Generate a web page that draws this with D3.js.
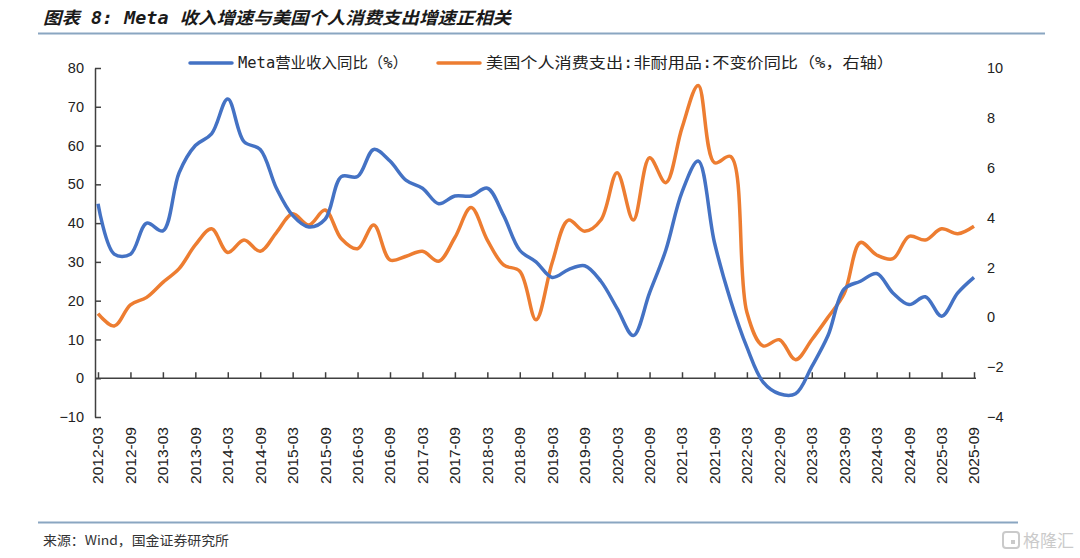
<!DOCTYPE html>
<html>
<head>
<meta charset="utf-8">
<script src="https://cdn.jsdelivr.net/npm/d3@7"></script>
<style>
	body { margin: 0; background: #fff; }
	svg { display: block; }
</style>
</head>
<body>
<div id="chart"></div>
<script>
// quarterly data, 2012-03 .. 2025-09
const quarters = [];
for (let y = 2012; y <= 2025; y++) {
	["03", "06", "09", "12"].forEach((m) => quarters.push(`${y}-${m}`));
}
quarters.splice(quarters.indexOf("2025-12"), 1);

const metaRevenueYoY = [
	45, 32, 32, 40, 38, 53, 60, 63, 72, 61, 59, 49, 42, 39, 41, 52,
	52, 59, 56, 51, 49, 45, 47, 47, 49, 42, 33, 30, 26, 28, 29, 25,
	18, 11, 22, 33, 48, 56, 35, 20, 8, -1, -4, -4, 3, 11, 23, 25,
	27, 22, 19, 21, 16, 22, 26
];

const pceNondurableYoY = [
	0.15, -0.35, 0.5, 0.8, 1.4, 1.95, 2.9, 3.55, 2.6, 3.1, 2.65, 3.4, 4.15, 3.7, 4.3, 3.15,
	2.75, 3.7, 2.3, 2.45, 2.65, 2.25, 3.2, 4.4, 3.1, 2.1, 1.85, -0.1, 2.2, 3.9, 3.45, 3.9,
	5.8, 3.9, 6.4, 5.4, 7.6, 9.3, 6.2, 6.45, 0.2, -1.15, -0.9, -1.7, -0.9, 0.0, 0.95, 3.0,
	2.5, 2.35, 3.25, 3.1, 3.55, 3.35, 3.65
];

const leftTicks = [-10, 0, 10, 20, 30, 40, 50, 60, 70, 80];
const rightTicks = [-4, -2, 0, 2, 4, 6, 8, 10];
const xLabels = quarters.filter((q, i) => i % 2 === 0);

const titleText = "图表 8: Meta 收入增速与美国个人消费支出增速正相关";
const sourceText = "来源：Wind，国金证券研究所";
const seriesNames = ["Meta营业收入同比（%）", "美国个人消费支出:非耐用品:不变价同比（%，右轴）"];
const colors = ["#4472C4", "#ED7D31"];

const width = 1080;
const height = 558;
const plotTop = 68;
const plotBottom = 417;
const axisX = 95;

const svg = d3.select("#chart").append("svg")
	.attr("width", width)
	.attr("height", height)
	.style("font-family", "'Liberation Sans', Arial, sans-serif");

const x = d3.scalePoint().domain(quarters).range([98, 974]);
const yLeft = d3.scaleLinear().domain([-10, 80]).range([plotBottom, plotTop]);
const yRight = d3.scaleLinear().domain([-4, 10]).range([plotBottom, plotTop]);

// title + rules
svg.append("text")
	.attr("x", 43)
	.attr("y", 24)
	.attr("font-family", "'DejaVu Sans Mono', 'Noto Sans CJK SC', monospace")
	.attr("font-size", 17)
	.attr("font-weight", "bold")
	.attr("font-style", "italic")
	.attr("fill", "#1a1a1a")
	.attr("textLength", 468)
	.attr("lengthAdjust", "spacingAndGlyphs")
	.text(titleText);

svg.append("line")
	.attr("x1", 38).attr("x2", 1045)
	.attr("y1", 33.5).attr("y2", 33.5)
	.attr("stroke", "#8aa6c1")
	.attr("stroke-width", 2);

svg.append("line")
	.attr("x1", 38).attr("x2", 1018)
	.attr("y1", 522.5).attr("y2", 522.5)
	.attr("stroke", "#8aa6c1")
	.attr("stroke-width", 2);

svg.append("text")
	.attr("x", 43)
	.attr("y", 545)
	.attr("font-family", "'Noto Sans CJK SC', sans-serif")
	.attr("font-size", 13)
	.attr("fill", "#333")
	.attr("textLength", 186)
	.attr("lengthAdjust", "spacingAndGlyphs")
	.text(sourceText);

// watermark
const wm = svg.append("g").attr("transform", "translate(1003, 540)").attr("opacity", 0.7);
wm.append("rect").attr("x", 0).attr("y", -8).attr("width", 16).attr("height", 16)
	.attr("rx", 3).attr("fill", "none").attr("stroke", "#b5b5b5").attr("stroke-width", 2);
wm.append("path").attr("d", "M8,0H12V4H8Z").attr("fill", "#b5b5b5");
wm.append("text").attr("x", 20).attr("y", 7)
	.attr("font-family", "'Noto Sans CJK SC', sans-serif")
	.attr("font-size", 17).attr("fill", "#b5b5b5").text("格隆汇");

// left axis
const leftAxis = svg.append("g")
	.attr("transform", `translate(${axisX},0)`)
	.call(d3.axisLeft(yLeft).tickValues(leftTicks).tickSizeInner(-6).tickSizeOuter(0).tickPadding(11));
leftAxis.select(".domain").attr("stroke", "#404040").attr("stroke-width", 1.5);
leftAxis.selectAll(".tick line").attr("stroke", "#404040").attr("stroke-width", 1.5);
leftAxis.selectAll(".tick text").attr("font-size", 14.5).attr("fill", "#222")
	.attr("font-family", "'Liberation Sans', Arial, sans-serif");

// right axis (labels only)
const rightAxis = svg.append("g")
	.attr("transform", "translate(980,0)")
	.call(d3.axisRight(yRight).tickValues(rightTicks).tickSize(0).tickPadding(7));
rightAxis.select(".domain").remove();
rightAxis.selectAll(".tick text").attr("font-size", 14.5).attr("fill", "#222")
	.attr("font-family", "'Liberation Sans', Arial, sans-serif");

// x axis line at left zero with inward ticks
const zeroY = yLeft(0);
const xAxis = svg.append("g")
	.attr("transform", `translate(0,${zeroY})`)
	.call(d3.axisBottom(x).tickValues(xLabels).tickSizeInner(-6).tickSizeOuter(0).tickFormat(""));
xAxis.select(".domain").attr("d", `M${axisX},0H${x.range()[1] + 2}`)
	.attr("stroke", "#404040").attr("stroke-width", 1.5);
xAxis.selectAll(".tick line").attr("stroke", "#404040").attr("stroke-width", 1.5);

// x labels at the bottom, rotated
svg.append("g")
	.selectAll("text")
	.data(xLabels)
	.enter()
	.append("text")
	.attr("transform", (d) => `translate(${x(d)},427) rotate(-90)`)
	.attr("text-anchor", "end")
	.attr("dy", "0.35em")
	.attr("font-size", 15.5)
	.attr("fill", "#222")
	.text((d) => d);

// lines
const lineLeft = d3.line()
	.x((d, i) => x(quarters[i]))
	.y((d) => yLeft(d))
	.curve(d3.curveCatmullRom.alpha(0.5));

const lineRight = d3.line()
	.x((d, i) => x(quarters[i]))
	.y((d) => yRight(d))
	.curve(d3.curveCatmullRom.alpha(0.5));

svg.append("path")
	.datum(pceNondurableYoY)
	.attr("fill", "none")
	.attr("stroke", colors[1])
	.attr("stroke-width", 3.5)
	.attr("stroke-linejoin", "round")
	.attr("d", lineRight);

svg.append("path")
	.datum(metaRevenueYoY)
	.attr("fill", "none")
	.attr("stroke", colors[0])
	.attr("stroke-width", 3.5)
	.attr("stroke-linejoin", "round")
	.attr("d", lineLeft);

// legend
const legendItems = [
	{ name: seriesNames[0], color: colors[0], x: 190, len: 170 },
	{ name: seriesNames[1], color: colors[1], x: 438, len: 408 }
];
const legend = svg.append("g")
	.selectAll("g")
	.data(legendItems)
	.enter()
	.append("g")
	.attr("transform", (d) => `translate(${d.x},63)`);
legend.append("line")
	.attr("x1", 0).attr("x2", 42)
	.attr("stroke", (d) => d.color)
	.attr("stroke-width", 3.5)
	.attr("stroke-linecap", "round");
legend.append("text")
	.attr("x", 48)
	.attr("dy", "0.36em")
	.attr("font-family", "'DejaVu Sans Mono', 'Noto Sans CJK SC', monospace")
	.attr("font-size", 15)
	.attr("fill", "#222")
	.attr("textLength", (d) => d.len)
	.attr("lengthAdjust", "spacingAndGlyphs")
	.text((d) => d.name);
</script>
</body>
</html>
